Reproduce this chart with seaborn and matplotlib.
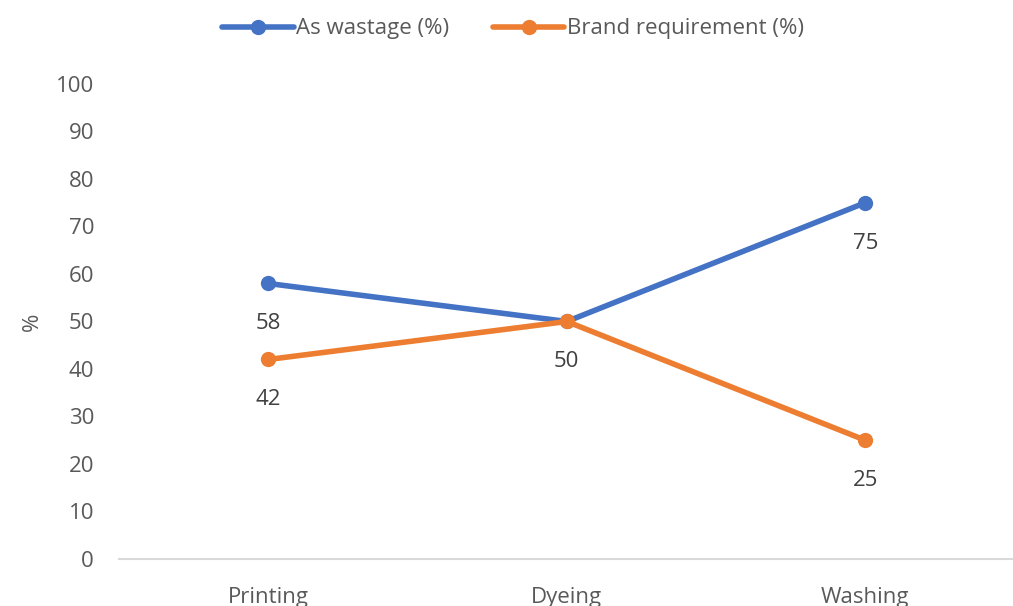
import matplotlib
matplotlib.use("Agg")
import matplotlib.pyplot as plt
import seaborn as sns
import pandas as pd

categories = ["Printing", "Dyeing", "Washing"]
wastage = [58, 50, 75]
brand = [42, 50, 25]
series_names = ["As wastage (%)", "Brand requirement (%)"]
yticks = list(range(0, 101, 10))

sns.set_theme(style="white")
plt.rcParams['font.family'] = ['Open Sans', 'DejaVu Sans']

df = pd.DataFrame({
    "stage": categories * 2,
    "value": wastage + brand,
    "series": [series_names[0]] * 3 + [series_names[1]] * 3,
})

fs = 16
fig = plt.figure(figsize=(10.13, 6.06), dpi=100)
ax = fig.add_axes([0.1175, 0.0776, 0.884, 0.7838])
palette = {series_names[0]: "#4472C4", series_names[1]: "#ED7D31"}
sns.lineplot(data=df, x="stage", y="value", hue="series", palette=palette,
             marker="o", markersize=11, linewidth=4, markeredgewidth=0,
             ax=ax, sort=False)

ax.set_xlim(-0.5, 2.5)
ax.set_ylim(0, 100)
ax.set_yticks(yticks)
txtc = "#595959"
ax.tick_params(axis="both", length=0, labelsize=fs, colors=txtc)
ax.tick_params(axis="y", pad=18)
ax.tick_params(axis="x", pad=20)
ax.set_xlabel("")
ax.set_ylabel("%", fontsize=fs, color=txtc, labelpad=9)
for s in ["top", "right", "left"]:
    ax.spines[s].set_visible(False)
ax.spines["bottom"].set_color("#D9D9D9")
ax.spines["bottom"].set_linewidth(1.5)

for vals in (wastage, brand):
    for i, v in enumerate(vals):
        if vals is brand and i == 1:
            continue
        ax.annotate(str(v), (i, v), xytext=(0, -29), textcoords="offset points",
                    ha="center", va="center", fontsize=fs, color="#404040")

leg = ax.legend(loc="upper center", bbox_to_anchor=(0.44, 1.18), ncol=2,
                frameon=False, fontsize=fs, handlelength=3.2, handletextpad=0.1,
                columnspacing=2.0, labelcolor=txtc)
ax.get_legend().set_title(None)

fig.savefig("out.png", dpi=100)
